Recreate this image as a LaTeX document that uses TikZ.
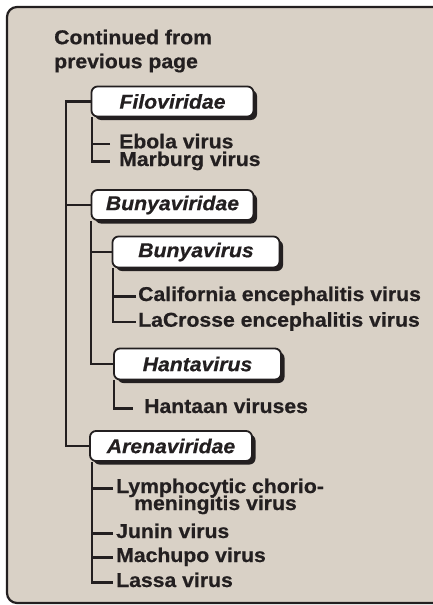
\documentclass[tikz,border=0pt]{standalone}
\usepackage{fontspec}
\setmainfont{Liberation Sans}[FakeStretch=1.06, FakeBold=0.6]
\usetikzlibrary{positioning, calc, shadows}

\definecolor{panelbg}{RGB}{217,209,198}
\definecolor{inkdark}{RGB}{35,31,32}

\begin{document}
\begin{tikzpicture}[
    x=1pt, y=-1pt,
    panel/.style={draw=inkdark, line width=2.2pt, rounded corners=10pt, fill=panelbg},
    family/.style={rectangle, rounded corners=6pt, minimum width=162pt, minimum height=30pt, inner sep=0pt, text centered, draw=inkdark, line width=1.8pt, fill=white, text=inkdark, font=\fontsize{20}{24}\selectfont\bfseries\itshape, drop shadow={shadow xshift=3.5pt, shadow yshift=-3.5pt, opacity=1, fill=inkdark}},
    genus/.style={family, minimum width=167pt, minimum height=31pt},
    leaf/.style={anchor=base west, inner sep=0pt, text=inkdark, font=\fontsize{20}{24}\selectfont\bfseries},
    branch/.style={draw=inkdark, line width=2.2pt}
]
\useasboundingbox (0,0) rectangle (432,605);
\draw[panel] (7,7) rectangle (452,603);

\node (cont) [leaf, anchor=north west, align=left] at (54,29.5) {Continued from\\previous page};

\node (filo) [family] at (172.5,101.5) {Filoviridae};
\node (bunyaviridae) [family] at (172.5,205) {Bunyaviridae};
\node (bunyavirus) [genus] at (196,252) {Bunyavirus};
\node (hanta) [genus] at (197.5,364) {Hantavirus};
\node (arena) [family] at (171,446) {Arenaviridae};

\node (ebola) [leaf] at (119,148.3) {Ebola virus};
\node (marburg) [leaf] at (119,166) {Marburg virus};
\node (calif) [leaf] at (138,301) {California encephalitis virus};
\node (lacrosse) [leaf] at (138,326.7) {LaCrosse encephalitis virus};
\node (hantaan) [leaf] at (144,413) {Hantaan viruses};
\node (lcm) [leaf] at (116,493) {Lymphocytic chorio-};
\node (lcmb) [leaf] at (134,510) {meningitis virus};
\node (junin) [leaf] at (116,538) {Junin virus};
\node (machupo) [leaf] at (116,562) {Machupo virus};
\node (lassa) [leaf] at (116,587) {Lassa virus};

% main spine
\coordinate (spine) at (66,0);
\draw [branch] (filo.west) -| (spine |- arena.west) -- (arena.west);
\draw [branch] (spine |- bunyaviridae.west) -- (bunyaviridae.west);

% Filoviridae
\draw [branch] ([xshift=1.5pt]filo.south west) |- ([xshift=-9pt,yshift=4.5pt]marburg.base west);
\draw [branch] ([xshift=-9pt,yshift=4.5pt]ebola.base west) -| ([xshift=1.5pt]filo.south west);

% Bunyaviridae
\draw [branch] (bunyaviridae.south west) |- (hanta.west);
\draw [branch] (bunyavirus.west) -| (bunyaviridae.south west);
\draw [branch] ([xshift=1pt]bunyavirus.south west) |- ([xshift=-2pt,yshift=4.5pt]lacrosse.base west);
\draw [branch] ([xshift=-2pt,yshift=4.5pt]calif.base west) -| ([xshift=1pt]bunyavirus.south west);
\draw [branch] ([xshift=1pt]hanta.south west) |- ([xshift=-11pt,yshift=4.5pt]hantaan.base west);

% Arenaviridae
\draw [branch] ([xshift=2.5pt]arena.south west) |- ([xshift=-3pt,yshift=4.5pt]lassa.base west);
\draw [branch] ([xshift=-3pt,yshift=4.5pt]lcm.base west) -| ([xshift=2.5pt]arena.south west);
\draw [branch] ([xshift=-3pt,yshift=4.5pt]junin.base west) -| ([xshift=2.5pt]arena.south west);
\draw [branch] ([xshift=-3pt,yshift=4.5pt]machupo.base west) -| ([xshift=2.5pt]arena.south west);

\end{tikzpicture}
\end{document}
